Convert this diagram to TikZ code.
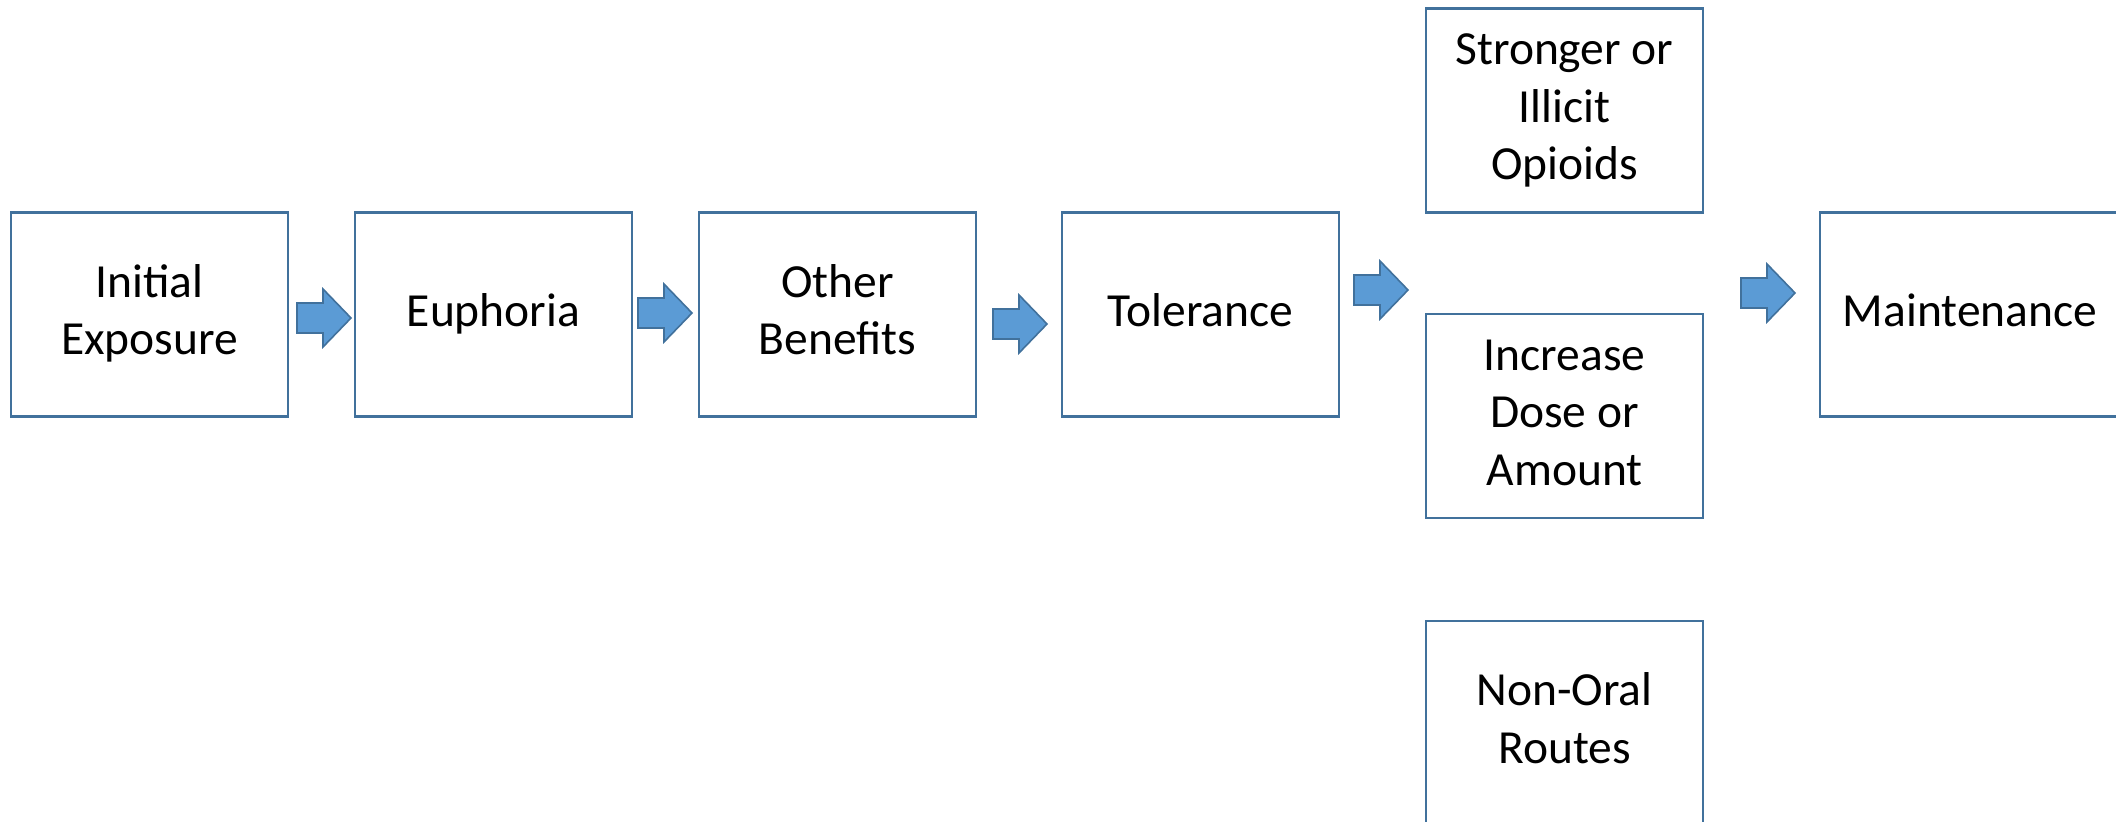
\documentclass[tikz,border=0pt]{standalone}
\usepackage{fontspec}
\setmainfont{Carlito}
\definecolor{boxblue}{HTML}{41719C}
\definecolor{arrowfill}{HTML}{5B9BD5}
\newcommand{\tallfirst}{\rule[-17.25bp]{0pt}{58.25bp}}
\tikzset{
  stagebox/.style={draw=boxblue, line width=2.2bp, minimum width=277bp, minimum height=204bp,
    inner sep=0pt, align=center, font=\fontsize{47.5bp}{57.5bp}\selectfont},
  blockarrow/.style={draw=boxblue, fill=arrowfill, line width=1.6bp, line join=miter},
  barrow/.pic={\draw[blockarrow] (0,-15) -- (26,-15) -- (26,-29) -- (54,0) -- (26,29) -- (26,15) -- (0,15) -- cycle;}
}
\begin{document}
\begin{tikzpicture}[x=1bp,y=-1bp]
\useasboundingbox (0,0) rectangle (2116,822);
\clip (0,0) rectangle (2116,822);
\node[stagebox] (init) at (149.5,314.5) {\strut Initial\\\strut Exposure};
\node[stagebox] (euph) at (493.5,314.5) {\strut Euphoria};
\node[stagebox] (other) at (837.5,314.5) {\strut Other\\\strut Benefits};
\node[stagebox] (tol) at (1200.5,314.5) {\strut Tolerance};
\node[stagebox] (strong) at (1564.5,110.5) {\tallfirst Stronger or\\\strut Illicit\\\strut Opioids};
\node[stagebox] (incr) at (1564.5,416) {\tallfirst Increase\\\strut Dose or\\\strut Amount};
\node[stagebox] (nonoral) at (1564.5,723) {\strut Non-Oral\\\strut Routes};
\node[stagebox, minimum width=300bp] (maint) at (1970,314.5) {\strut Maintenance};
\coordinate (a1) at (297,318);
\coordinate (a2) at (638,313);
\coordinate (a3) at (993,324);
\coordinate (a4) at (1354,290);
\coordinate (a5) at (1741,293);
\foreach \c in {a1,a2,a3,a4,a5} { \pic at (\c) {barrow}; }
\end{tikzpicture}
\end{document}
